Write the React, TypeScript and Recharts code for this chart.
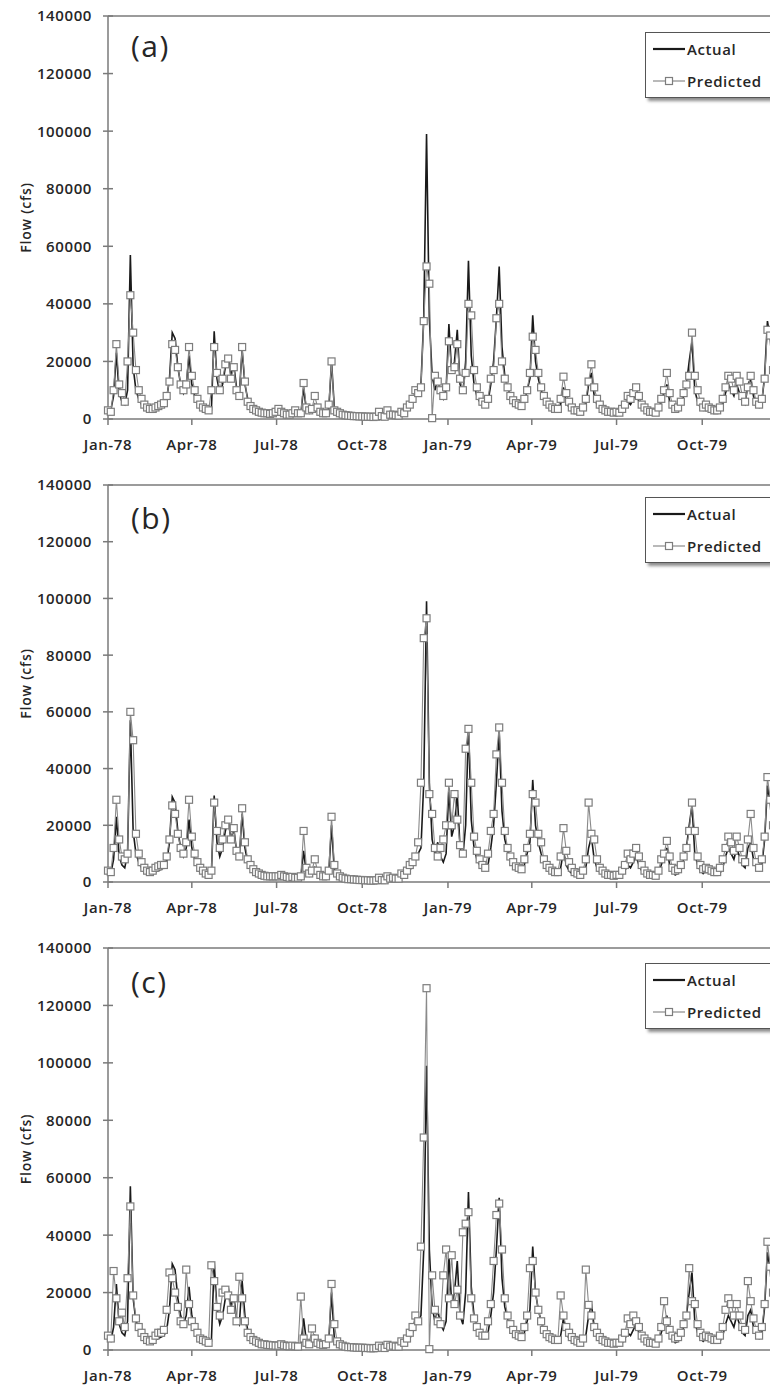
import React from "react";
import { LineChart, Line, XAxis, YAxis, ReferenceLine } from "recharts";

// one sample every third day, starting 1 Jan 1978
const STEP_DAYS = 3;

// flows in thousands of cfs
const actualFlow = [
  3.5, 3, 8, 23, 9, 6, 5, 10, 57, 18, 10,
  7, 5, 4, 3, 2.5, 3, 3.5, 4, 4.5,
  5, 7, 14, 30, 28, 18, 12, 9, 12, 22,
  12, 8, 6, 4.5, 3.5, 3, 2.5, 3, 30.5, 14,
  9, 12, 18, 22, 15, 19, 11, 9, 24, 12,
  7, 5, 4, 3, 2.5, 2.2, 2, 1.8, 1.7, 1.5, 1.5,
  1.4, 2, 1.5, 1.3, 1.2, 1.5, 1.2, 1, 1.5, 11,
  3, 2, 3, 5, 2.5, 2, 1.5, 1.8, 3, 20,
  4, 2.5, 2, 1.5, 1.3, 1.2, 1, 1, 0.9, 0.8,
  0.8, 0.7, 0.8, 0.7, 0.6, 0.7, 1, 0.8, 0.7, 1, 1.2,
  1.3, 1.2, 1, 1.5, 2, 3, 4, 6, 9, 10,
  12, 35, 99, 35, 15, 10, 14, 9, 7, 10,
  33, 16, 20, 31, 12, 9, 20, 55, 22, 12,
  8, 6, 5, 4.5, 6, 12, 20, 35, 53, 25,
  15, 11, 8, 6, 5, 4.5, 4, 6, 10, 14,
  36, 20, 14, 10, 7, 5, 4, 3.5, 3, 2.8,
  5, 11, 6, 4, 3, 2.5, 2.5, 2.2, 3, 5,
  12, 16, 8, 5, 3.5, 3, 2.5, 2.2, 2, 1.8,
  2, 1.8, 2.5, 4, 6, 5, 7, 9, 6, 4, 3,
  2.5, 2, 2, 1.8, 3, 6, 9, 12, 6, 4,
  2.5, 3, 5, 8, 12, 20, 27, 10, 6, 4,
  3, 4, 3.5, 3, 2.5, 2.5, 3, 5, 9, 12,
  10, 8, 12, 9, 6, 5, 12, 14, 8, 5,
  4, 6, 15, 34, 28, 14, 10, 8, 6, 5, 4.5,
];

const predictedA = [
  3, 2.5, 10, 26, 12, 9, 6, 20, 43, 30, 17,
  10, 7, 5, 4, 3.5, 3.5, 4, 4.5, 5,
  5.5, 8, 13, 26, 24, 18, 12, 10, 12, 25,
  15, 10, 7, 5, 4, 3.5, 3, 10, 25, 16,
  10, 14, 19, 21, 14, 18, 10, 8, 25, 13,
  6, 4.5, 3.5, 3, 2.5, 2.2, 2, 2, 1.8, 2, 2.5,
  3.5, 2.5, 2, 1.5, 1.5, 2, 3, 2, 2, 12.5,
  4, 3, 3.5, 8, 4, 2.5, 2, 2, 5, 20,
  3, 2.5, 2, 1.5, 1.3, 1.2, 1.1, 1, 1, 0.9,
  0.9, 0.8, 0.8, 0.8, 0.7, 0.8, 2.5, 1, 0.8, 3, 1.5,
  1.5, 1.3, 1.2, 2.5, 2, 4, 5, 7, 10, 9,
  11, 34, 53, 47, 0.3, 15, 13, 10, 8, 11,
  27, 17, 18, 26, 14, 10, 16, 40, 36, 17,
  11, 8, 6, 5, 7, 14, 17, 35, 40, 20,
  14, 11, 8, 6.5, 5.5, 5, 4.5, 7, 10, 16,
  28.6, 24, 16, 11, 8, 6, 5, 4, 3.5, 3.5,
  7, 14.7, 9, 6, 4, 3, 3, 2.5, 4, 7,
  13, 19, 11, 7, 5, 3.5, 3, 2.5, 2.5, 2.2,
  2.5, 2.2, 3.5, 5, 8, 7, 9, 11, 8, 5, 4,
  3, 2.5, 2.5, 2.2, 4, 7, 10, 16, 9, 5,
  3.5, 4, 6, 9, 12, 15, 30, 15, 10, 6,
  4, 5, 4, 3.5, 3, 3, 4, 7, 11, 15,
  14, 10, 15, 13, 8, 6, 11, 15, 10, 6,
  5, 7, 14, 31, 29, 17, 12, 9, 7, 6, 5,
];

const predictedB = [
  4, 3.5, 12, 29, 15, 9, 8, 10, 60, 50, 17,
  10, 7, 5, 4, 3.5, 4, 5, 5.5, 6,
  6, 9, 15, 27, 24, 17, 12, 10, 14, 29,
  16, 10, 7, 5, 4, 3, 2.5, 4, 28, 18,
  12, 15, 20, 22, 15, 19, 11, 9, 26, 14,
  8, 6, 4.5, 3.5, 3, 2.5, 2.2, 2, 2, 2, 2,
  2, 2.5, 2, 1.8, 1.5, 1.8, 1.5, 1.5, 2, 18,
  5, 3, 4, 8, 4, 2.5, 2, 2, 4, 23,
  6, 3, 2, 1.5, 1.2, 1, 1, 0.9, 0.8, 0.7,
  0.7, 0.6, 0.6, 0.5, 0.5, 0.6, 1.5, 0.7, 0.6, 2, 1.2,
  1.5, 1.2, 1.2, 3, 2.5, 4, 6, 7, 9, 14,
  35, 86, 93, 31, 24, 12, 9, 12, 15, 20,
  35, 20, 31, 22, 13, 10, 47, 54, 35, 16,
  11, 8, 6, 5, 10, 18, 24, 45, 54.5, 35,
  18, 12, 9, 7, 5.5, 5, 4.5, 8, 12, 17,
  31, 28, 17, 14, 8, 6, 5, 4, 3.5, 3.5,
  9, 19, 11, 7, 5, 3.5, 3, 2.5, 4, 8,
  28, 17, 15, 8, 5, 4, 3, 2.5, 2.5, 2.2,
  2.5, 2.5, 4, 6, 10, 8, 10, 12, 9, 6, 4,
  3, 2.5, 2.5, 2.2, 4, 8, 10, 14.5, 9, 5,
  4, 4.5, 6, 9, 12, 18, 28, 18, 9, 6,
  4.5, 5, 4.5, 4, 3.5, 3.5, 5, 8, 12, 16,
  14, 11, 16, 12, 8, 7, 15, 24, 12, 7,
  5, 8, 16, 37, 29, 20, 13, 10, 8, 6, 5,
];

const predictedC = [
  5, 4, 27.5, 18, 10, 13, 8, 25, 50, 19, 11,
  8, 6, 4.5, 3.5, 3, 3.5, 5, 6, 6,
  7, 14, 27, 25, 20, 15, 10, 9, 28, 16,
  10, 8, 6, 4, 3.5, 3, 2.5, 29.5, 24, 15,
  12, 20, 21, 19, 14, 18, 10, 25.5, 18, 10,
  6, 4.5, 3.5, 3, 2.5, 2, 2, 1.8, 1.7, 1.6, 1.5,
  1.5, 2, 1.6, 1.4, 1.3, 1.5, 1.3, 1.2, 18.6, 4,
  2.5, 2, 7.5, 4, 2.5, 2, 1.8, 2, 4, 23,
  9, 3, 2, 1.5, 1.2, 1, 1, 0.9, 0.8, 0.8,
  0.8, 0.7, 0.7, 0.6, 0.6, 0.7, 1.5, 0.8, 0.7, 1.8, 1.2,
  1.5, 1.2, 1.2, 3, 2.5, 4, 6, 8, 12, 10,
  36, 74, 126, 0.3, 26, 14, 10, 9, 26, 35,
  18, 33, 16, 21, 12, 41, 44, 48, 18, 11,
  8, 6, 5, 5, 10, 16, 31, 47, 51, 35,
  18, 12, 9, 7, 5.5, 5, 4.5, 8, 12, 28.5,
  31, 20, 14, 10, 7, 5.5, 4.5, 4, 3.5, 3.5,
  19, 12, 8, 6, 4.5, 3.5, 3, 2.5, 4, 28,
  15.7, 12, 8, 6, 4.5, 3.5, 3, 2.5, 2.5, 2.2,
  2.5, 2.5, 4, 6, 11, 9, 12, 10, 8, 5, 4,
  3, 2.5, 2.5, 2.2, 4, 8, 17, 10, 7, 5,
  4, 4.5, 6, 9, 12, 28.5, 17, 16, 9, 6,
  4.5, 5, 4.5, 4, 3.5, 3.5, 5, 8, 14, 18,
  16, 12, 16, 12, 8, 7, 24, 17, 11, 7,
  5, 8, 16, 37.7, 29, 20, 14, 11, 9, 7, 6,
];

const tickDays = [0, 90, 181, 273, 365, 455, 546, 638];
const tickLabels = ["Jan-78", "Apr-78", "Jul-78", "Oct-78", "Jan-79", "Apr-79", "Jul-79", "Oct-79"];
const flowTicks = [0, 20000, 40000, 60000, 80000, 100000, 120000, 140000];
const panelLabels = ["(a)", "(b)", "(c)"];

const FONT = '"Open Sans", sans-serif';
const TEXT = "#262626";
const AXIS = "#7a7a7a";

const panels = [
  { label: panelLabels[0], predicted: predictedA, height: 466, top: 16, plot: 403, labelTop: 31, legendTop: 32 },
  { label: panelLabels[1], predicted: predictedB, height: 466, top: 19, plot: 397, labelTop: 37, legendTop: 31 },
  { label: panelLabels[2], predicted: predictedC, height: 456, top: 16, plot: 402, labelTop: 35, legendTop: 31 },
];

const Square = (props: any) => {
  const { cx, cy, index } = props;
  if (cx == null || cy == null) return <g key={index} />;
  return (
    <rect
      key={index}
      x={cx - 3.5}
      y={cy - 3.5}
      width={7}
      height={7}
      fill="#fff"
      stroke="#7d7d7d"
      strokeWidth={1.2}
    />
  );
};

const YTick = (props: any) => {
  const { x, y, payload } = props;
  return (
    <g>
      <line x1={x + 11} x2={x + 21} y1={y} y2={y} stroke={AXIS} strokeWidth={1.5} />
      <text
        x={x}
        y={y}
        dy="0.36em"
        textAnchor="end"
        fill={TEXT}
        fontFamily={FONT}
        fontSize={15}
        fontWeight={600}
        letterSpacing={0.6}
      >
        {payload.value}
      </text>
    </g>
  );
};

function Legend({ top }: { top: number }) {
  return (
    <div
      style={{
        position: "absolute",
        left: 637,
        top,
        width: 125,
        height: 64,
        border: "1.5px solid #555",
        background: "#fff",
        boxShadow: "3px 3px 3px rgba(0,0,0,0.45)",
        fontFamily: FONT,
        fontSize: 15,
        fontWeight: 600,
        letterSpacing: 0.6,
        color: TEXT,
      }}
    >
      <div style={{ display: "flex", alignItems: "center", height: 32, paddingLeft: 7 }}>
        <svg width={34} height={10}>
          <line x1={0} x2={32} y1={5} y2={5} stroke="#1a1a1a" strokeWidth={2.2} />
        </svg>
        <span>Actual</span>
      </div>
      <div style={{ display: "flex", alignItems: "center", height: 32, paddingLeft: 7 }}>
        <svg width={34} height={10}>
          <line x1={0} x2={32} y1={5} y2={5} stroke="#8a8a8a" strokeWidth={1.2} />
          <rect x={12.5} y={1.5} width={7} height={7} fill="#fff" stroke="#7d7d7d" strokeWidth={1.2} />
        </svg>
        <span>Predicted</span>
      </div>
    </div>
  );
}

function FlowPanel({ panel }: { panel: (typeof panels)[number] }) {
  const data = actualFlow.map((v, i) => ({
    day: i * STEP_DAYS,
    actual: v * 1000,
    predicted: panel.predicted[i] * 1000,
  }));
  const xAxisHeight = 36;
  const bottom = panel.height - panel.top - panel.plot - xAxisHeight;

  return (
    <div style={{ position: "relative", width: 800, height: panel.height }}>
      <LineChart
        width={800}
        height={panel.height}
        data={data}
        margin={{ top: panel.top, right: 21, bottom, left: 0 }}
      >
        <XAxis
          dataKey="day"
          type="number"
          domain={[0, 729]}
          ticks={tickDays}
          tickFormatter={(d: number) => tickLabels[tickDays.indexOf(d)] ?? ""}
          height={xAxisHeight}
          stroke={AXIS}
          strokeWidth={1.5}
          tickSize={6}
          tickMargin={14}
          tick={{ fill: TEXT, fontSize: 15, fontFamily: FONT, fontWeight: 600, letterSpacing: 0.6 }}
          interval={0}
        />
        <YAxis
          type="number"
          domain={[0, 140000]}
          ticks={flowTicks}
          width={100}
          stroke={AXIS}
          strokeWidth={1.5}
          tickLine={false}
          tickSize={5}
          tickMargin={11}
          tick={<YTick />}
          interval={0}
          label={{
            content: (p: any) => {
              const vb = p.viewBox || {};
              const cy = (vb.y ?? 0) + (vb.height ?? 0) / 2;
              return (
                <text
                  x={17}
                  y={cy}
                  transform={`rotate(-90 17 ${cy})`}
                  textAnchor="middle"
                  dominantBaseline="central"
                  fill={TEXT}
                  fontFamily={FONT}
                  fontSize={14}
                  fontWeight={600}
                  letterSpacing={0.8}
                >
                  Flow (cfs)
                </text>
              );
            },
          }}
        />
        <ReferenceLine y={140000} stroke={AXIS} strokeWidth={1.5} />
        <Line
          type="linear"
          dataKey="actual"
          stroke="#1a1a1a"
          strokeWidth={1.6}
          dot={false}
          isAnimationActive={false}
        />
        <Line
          type="linear"
          dataKey="predicted"
          stroke="#8a8a8a"
          strokeWidth={1.1}
          dot={Square}
          activeDot={false}
          isAnimationActive={false}
        />
      </LineChart>
      <div
        style={{
          position: "absolute",
          left: 123,
          top: panel.labelTop,
          fontFamily: FONT,
          fontSize: 30,
          lineHeight: "30px",
          letterSpacing: 1.5,
          color: TEXT,
        }}
      >
        {panel.label}
      </div>
      <Legend top={panel.legendTop} />
    </div>
  );
}

export default function App() {
  return (
    <div style={{ width: 770, marginTop: -8, overflow: "hidden", background: "#fff" }}>
      {panels.map((p) => (
        <FlowPanel key={p.label} panel={p} />
      ))}
    </div>
  );
}
